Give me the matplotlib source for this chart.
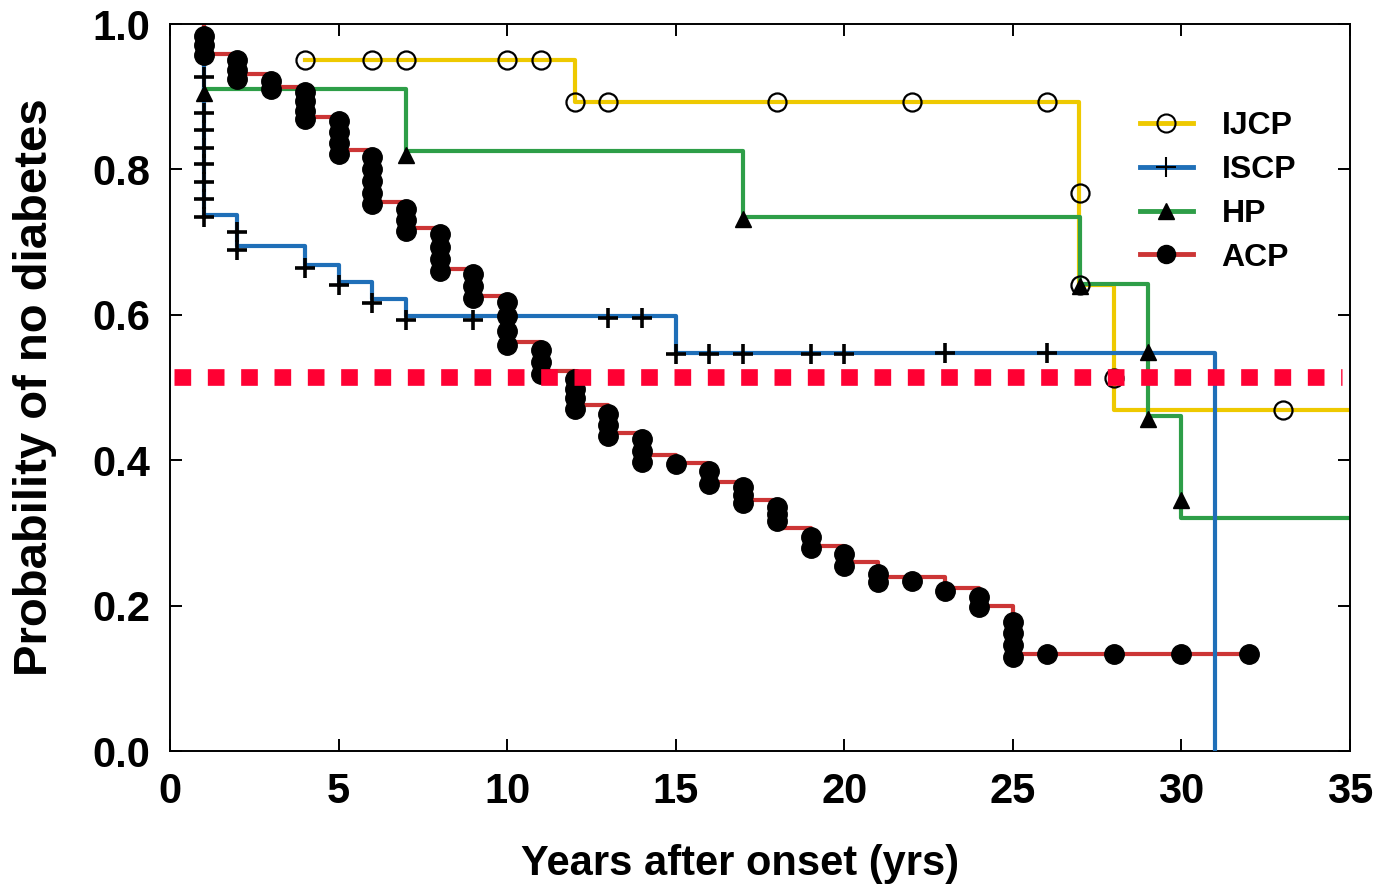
import matplotlib
matplotlib.use("Agg")
import matplotlib.pyplot as plt
from matplotlib.lines import Line2D

plt.rcParams['font.family'] = ['Liberation Sans', 'DejaVu Sans']
plt.rcParams['font.weight'] = 'bold'

# step curves (steps-post)
ijcp_t = [4, 12, 26.95, 28, 35]
ijcp_s = [0.95, 0.893, 0.641, 0.469, 0.469]
iscp_t = [1, 1, 2, 4, 5, 6, 7, 15, 31, 31]
iscp_s = [0.95, 0.737, 0.695, 0.668, 0.645, 0.622, 0.598, 0.548, 0.548, 0.0]
hp_t = [1, 7, 17, 27, 29, 30, 35]
hp_s = [0.911, 0.825, 0.734, 0.643, 0.461, 0.32, 0.32]
acp_t = [1, 1, 2, 3, 4, 5, 6, 7, 8, 9, 10, 11, 12, 13, 14, 15, 16, 17, 18,
         19, 20, 21, 23, 24, 25, 32]
acp_s = [1.0, 0.959, 0.931, 0.913, 0.872, 0.827, 0.755, 0.719, 0.663, 0.626,
         0.563, 0.523, 0.476, 0.437, 0.407, 0.396, 0.37, 0.345, 0.307, 0.282,
         0.26, 0.239, 0.224, 0.2, 0.134, 0.134]

# marker points
ijcp_mx = [4, 6, 7, 10, 11, 12, 13, 18, 22, 26, 27, 27, 28, 33]
ijcp_my = [0.95, 0.95, 0.95, 0.95, 0.95, 0.893, 0.893, 0.893, 0.893, 0.893,
           0.768, 0.641, 0.513, 0.469]
iscp_mx = [1, 1, 1, 1, 1, 1, 1, 1, 2, 2, 4, 5, 6, 7, 9, 13, 14,
           15, 16, 17, 19, 20, 23, 26]
iscp_my = [0.927, 0.878, 0.854, 0.829, 0.807, 0.783, 0.759, 0.734, 0.714, 0.689,
           0.665, 0.641, 0.616, 0.593, 0.593, 0.596, 0.596,
           0.546, 0.546, 0.546, 0.546, 0.546, 0.547, 0.547]
hp_mx = [1, 7, 17, 27, 29, 29, 30]
hp_my = [0.905, 0.82, 0.732, 0.64, 0.549, 0.457, 0.345]
acp_dots = {
    1: [0.984, 0.971, 0.958],
    2: [0.950, 0.937, 0.924],
    3: [0.921, 0.910],
    4: [0.907, 0.894, 0.881, 0.869],
    5: [0.866, 0.851, 0.836, 0.821],
    6: [0.817, 0.800, 0.784, 0.768, 0.752],
    7: [0.746, 0.730, 0.715],
    8: [0.711, 0.694, 0.677, 0.660],
    9: [0.656, 0.640, 0.623],
    10: [0.618, 0.598, 0.578, 0.559],
    11: [0.551, 0.535, 0.518],
    12: [0.512, 0.498, 0.485, 0.471],
    13: [0.464, 0.449, 0.433],
    14: [0.429, 0.413, 0.398],
    15: [0.395],
    16: [0.385, 0.368],
    17: [0.363, 0.352, 0.341],
    18: [0.336, 0.326, 0.316],
    19: [0.295, 0.279],
    20: [0.271, 0.254],
    21: [0.244, 0.233],
    22: [0.234],
    23: [0.220],
    24: [0.212, 0.198],
    25: [0.178, 0.162, 0.146, 0.130],
    26: [0.134],
    28: [0.134],
    30: [0.134],
    32: [0.134],
}
median_line = 0.514

c_yel = '#EEC900'
c_blu = '#1F6FB8'
c_grn = '#2E9E48'
c_red = '#CC3535'
c_dash = '#FF0033'

fig = plt.figure(figsize=(13.8, 8.91), dpi=100)
ax = fig.add_axes([0.1232, 0.1571, 0.8551, 0.8159])

ax.plot(ijcp_t, ijcp_s, drawstyle='steps-post', color=c_yel, lw=3, zorder=2)
ax.plot(hp_t, hp_s, drawstyle='steps-post', color=c_grn, lw=3, zorder=2)
ax.plot(acp_t, acp_s, drawstyle='steps-post', color=c_red, lw=3, zorder=2)
ax.plot(iscp_t, iscp_s, drawstyle='steps-post', color=c_blu, lw=3, zorder=3)

ax.plot(ijcp_mx, ijcp_my, ls='none', marker='o', ms=13, mfc='none', mec='black',
        mew=1.6, zorder=4)
ax.plot(iscp_mx, iscp_my, ls='none', marker='+', ms=14, mec='black', mew=2.6, zorder=4)
ax.plot(hp_mx, hp_my, ls='none', marker='^', ms=12, color='black', zorder=4)
acp_x = [k for k, v in acp_dots.items() for _ in v]
acp_y = [y for v in acp_dots.values() for y in v]
ax.plot(acp_x, acp_y, ls='none', marker='o', ms=14, color='black', zorder=4)

ax.plot([0.12, 34.75], [median_line, median_line], color=c_dash, lw=12,
        ls=(0, (1, 1)), solid_capstyle='butt', dash_capstyle='butt', zorder=5)

ax.set_xlim(0, 35)
ax.set_ylim(0, 1.0)
ax.set_xticks([0, 5, 10, 15, 20, 25, 30, 35])
ax.set_yticks([0.0, 0.2, 0.4, 0.6, 0.8, 1.0])
ax.set_yticklabels(['0.0', '0.2', '0.4', '0.6', '0.8', '1.0'])
ax.tick_params(direction='in', length=8.5, width=1.4, top=True, right=True,
               labelsize=30, pad=14)
ax.tick_params(axis='x', pad=15)
for lab in ax.get_xticklabels() + ax.get_yticklabels():
    lab.set_fontweight('bold')
for sp in ax.spines.values():
    sp.set_linewidth(1.4)

ax.set_xlabel('Years after onset (yrs)', fontsize=30, fontweight='bold')
ax.set_ylabel('Probability of no diabetes', fontsize=34, fontweight='bold')
ax.xaxis.set_label_coords(0.483, -0.128)
ax.yaxis.set_label_coords(-0.096, 0.5)

handles = [
    Line2D([], [], color=c_yel, lw=3.5, marker='o', ms=13, mfc='none', mec='black', mew=1.5),
    Line2D([], [], color=c_blu, lw=3.5, marker='+', ms=14, mec='black', mew=1.5),
    Line2D([], [], color=c_grn, lw=3.5, marker='^', ms=12, mfc='black', mec='black'),
    Line2D([], [], color=c_red, lw=3.5, marker='o', ms=13, mfc='black', mec='black'),
]
ax.legend(handles, ['IJCP', 'ISCP', 'HP', 'ACP'], loc='upper left',
          bbox_to_anchor=(0.822, 0.880), frameon=False, borderpad=0,
          borderaxespad=0, handlelength=1.65, handletextpad=0.9,
          labelspacing=0.43, prop={'size': 23, 'weight': 'bold'})

fig.savefig('out.png', dpi=100)
